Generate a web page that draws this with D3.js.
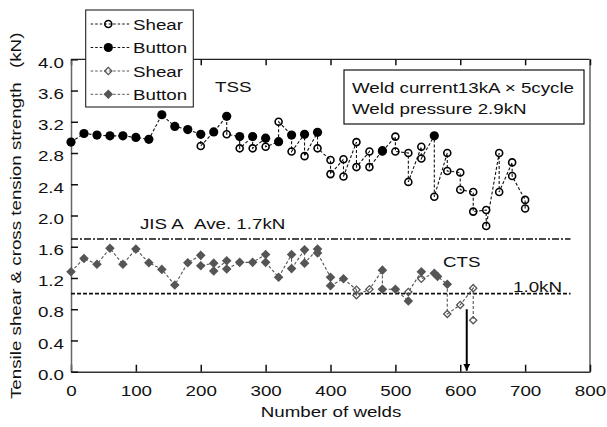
<!DOCTYPE html>
<html>
<head>
<meta charset="utf-8">
<script src="https://cdn.jsdelivr.net/npm/d3@7"></script>
<style>
  body { margin: 0; background: #fff; }
  text { font-family: "Liberation Sans", Arial, sans-serif; fill: #111; }
</style>
</head>
<body>
<svg id="chart" width="607" height="427"></svg>
<script>
// ---- data ----
var xTicks = [0, 100, 200, 300, 400, 500, 600, 700, 800];
var yTicks = [0, 0.4, 0.8, 1.2, 1.6, 2.0, 2.4, 2.8, 3.2, 3.6, 4.0];

// tensile shear strength, [welds, kN]
var tssButton = [[0, 2.94], [20, 3.05], [40, 3.03], [60, 3.02], [80, 3.02], [100, 3.00],
  [120, 2.975], [140, 3.29], [160, 3.14], [180, 3.10], [200, 3.04], [220, 3.07],
  [240, 3.27], [260, 3.01], [280, 3.01], [300, 2.99], [320, 2.945], [340, 3.03],
  [360, 3.04], [380, 3.065], [480, 2.83], [560, 3.02]];
var tssShear = [[200, 2.89], [240, 3.04], [260, 2.86], [280, 2.86], [300, 2.88],
  [320, 3.20], [340, 2.82], [360, 2.76], [380, 2.86], [400, 2.71], [400, 2.53],
  [420, 2.72], [420, 2.50], [440, 2.94], [440, 2.62], [460, 2.82], [460, 2.62],
  [480, 2.82], [500, 3.01], [500, 2.82], [520, 2.80], [520, 2.43], [540, 2.88],
  [540, 2.73], [560, 2.24], [580, 2.80], [580, 2.57], [600, 2.55], [600, 2.33],
  [620, 2.30], [620, 2.05], [640, 2.07], [640, 1.865], [660, 2.80], [660, 2.30],
  [680, 2.68], [680, 2.505], [700, 2.20], [700, 2.09]];

// cross tension strength, [welds, kN]
var ctsButton = [[0, 1.28], [20, 1.45], [40, 1.375], [60, 1.58], [80, 1.375], [100, 1.57],
  [120, 1.395], [140, 1.31], [160, 1.11], [180, 1.395], [200, 1.49], [200, 1.357],
  [220, 1.39], [220, 1.29], [240, 1.42], [240, 1.315], [260, 1.40], [280, 1.40],
  [300, 1.50], [300, 1.40], [320, 1.21], [340, 1.50], [340, 1.32], [360, 1.56],
  [360, 1.39], [380, 1.57], [380, 1.52], [400, 1.21], [400, 1.10], [420, 1.19],
  [480, 1.30], [480, 1.055], [500, 1.055], [520, 0.905], [540, 1.28], [560, 1.26],
  [565, 1.22], [580, 1.12]];
var ctsShear = [[440, 1.05], [440, 0.98], [460, 1.055], [520, 1.02], [540, 1.19],
  [580, 0.74], [600, 0.855], [620, 1.07], [620, 0.66]];

var jisAve = 1.7;       // JIS A average
var ctsLimit = 1.0;     // 1.0kN line
var limitWeld = 610;    // arrow
var arrowFrom = 0.8;

// ---- layout ----
var svg = d3.select("#chart");
var SX = 1.21;          // horizontal glyph stretch of the original font
var FS = 15.5;

var x = d3.scaleLinear().domain([0, 800]).range([71, 590]);
var y = d3.scaleLinear().domain([0, 4]).range([371.7, 59.3]);

function label(str, px, py, anchor, rotate) {
  return svg.append("text")
    .attr("transform", "translate(" + px + "," + py + ")" + (rotate ? " rotate(-90)" : "") + " scale(" + SX + ",1)")
    .attr("text-anchor", anchor || "start")
    .attr("font-size", FS)
    .text(str);
}

// frame
svg.append("line").attr("x1", x(0)).attr("x2", x(800)).attr("y1", y(4)).attr("y2", y(4))
  .attr("stroke", "#222").attr("stroke-width", 1.2);
svg.append("line").attr("x1", x(800)).attr("x2", x(800)).attr("y1", y(4)).attr("y2", y(0))
  .attr("stroke", "#888").attr("stroke-width", 2);

// top ticks (inside)
svg.append("g").attr("transform", "translate(0," + y(4) + ")")
  .call(d3.axisTop(x).tickValues(xTicks).tickSizeInner(-6).tickSizeOuter(0).tickFormat(""))
  .call(function (g) { g.select(".domain").remove(); })
  .selectAll("line").attr("stroke", "#111").attr("stroke-width", 1.5);

// bottom axis
var xAxis = svg.append("g").attr("transform", "translate(0," + y(0) + ")")
  .call(d3.axisBottom(x).tickValues(xTicks).tickSizeInner(-7).tickSizeOuter(0).tickPadding(13.5));
xAxis.select(".domain").attr("stroke", "#333").attr("stroke-width", 1.5);
xAxis.selectAll("line").attr("stroke", "#111").attr("stroke-width", 1.5);
xAxis.selectAll("text").attr("font-size", FS).attr("font-family", null).attr("fill", "#111")
  .attr("transform", "scale(" + SX + ",1)");

// left axis
var yAxis = svg.append("g").attr("transform", "translate(" + x(0) + ",0)")
  .call(d3.axisLeft(y).tickValues(yTicks).tickSizeInner(-7).tickSizeOuter(0).tickPadding(5.8)
    .tickFormat(d3.format(".1f")));
yAxis.select(".domain").attr("stroke", "#666").attr("stroke-width", 1.5);
yAxis.selectAll("line").attr("stroke", "#111").attr("stroke-width", 1.5);
yAxis.selectAll("text").attr("font-size", FS).attr("font-family", null).attr("fill", "#111")
  .attr("dy", "0.5em").attr("transform", "scale(" + SX + ",1)")
  .attr("x", -5.8);

// reference lines
svg.append("line").attr("x1", x(0)).attr("x2", x(770)).attr("y1", y(jisAve)).attr("y2", y(jisAve))
  .attr("stroke", "#111").attr("stroke-width", 1.6).attr("stroke-dasharray", "7,2,2,2");
svg.append("line").attr("x1", x(0)).attr("x2", x(770)).attr("y1", y(ctsLimit)).attr("y2", y(ctsLimit))
  .attr("stroke", "#111").attr("stroke-width", 1.6).attr("stroke-dasharray", "4,2");

// connecting lines
function byWeld(a, b) { return a[0] - b[0]; }
var line = d3.line().x(function (d) { return x(d[0]); }).y(function (d) { return y(d[1]); });
var tssAll = tssButton.concat(tssShear).sort(byWeld);
var ctsAll = ctsButton.concat(ctsShear).sort(byWeld);

svg.append("path").datum(tssAll).attr("d", line).attr("fill", "none")
  .attr("stroke", "#111").attr("stroke-width", 1.1).attr("stroke-dasharray", "3,2");
svg.append("path").datum(ctsAll).attr("d", line).attr("fill", "none")
  .attr("stroke", "#555").attr("stroke-width", 1.1).attr("stroke-dasharray", "3,2");

// markers
var diamondBig = d3.symbol().type(d3.symbolSquare).size(46);
var diamondSmall = d3.symbol().type(d3.symbolSquare).size(26);

function drawFilledCircles(g, data) {
  g.selectAll(null).data(data).join("circle")
    .attr("cx", function (d) { return x(d[0]); }).attr("cy", function (d) { return y(d[1]); })
    .attr("r", 4.6).attr("fill", "#000");
}
function drawOpenCircles(g, data) {
  g.selectAll(null).data(data).join("circle")
    .attr("cx", function (d) { return x(d[0]); }).attr("cy", function (d) { return y(d[1]); })
    .attr("r", 3.5).attr("fill", "none").attr("stroke", "#000").attr("stroke-width", 1.6);
}
function drawFilledDiamonds(g, data) {
  g.selectAll(null).data(data).join("path")
    .attr("d", diamondBig)
    .attr("transform", function (d) { return "translate(" + x(d[0]) + "," + y(d[1]) + ") rotate(45)"; })
    .attr("fill", "#555");
}
function drawOpenDiamonds(g, data) {
  g.selectAll(null).data(data).join("path")
    .attr("d", diamondSmall)
    .attr("transform", function (d) { return "translate(" + x(d[0]) + "," + y(d[1]) + ") rotate(45)"; })
    .attr("fill", "none").attr("stroke", "#555").attr("stroke-width", 1.3);
}

var marks = svg.append("g");
drawFilledDiamonds(marks.append("g"), ctsButton);
drawOpenDiamonds(marks.append("g"), ctsShear);
drawFilledCircles(marks.append("g"), tssButton);
drawOpenCircles(marks.append("g"), tssShear);

// arrow at the limit
svg.append("defs").append("marker").attr("id", "arrow")
  .attr("viewBox", "0 0 10 10").attr("refX", 10).attr("refY", 5)
  .attr("markerWidth", 7).attr("markerHeight", 7).attr("markerUnits", "userSpaceOnUse")
  .attr("orient", "auto")
  .append("path").attr("d", "M0,0L10,5L0,10Z").attr("fill", "#000");
svg.append("line").attr("x1", x(limitWeld)).attr("x2", x(limitWeld))
  .attr("y1", y(arrowFrom)).attr("y2", y(0) - 1)
  .attr("stroke", "#000").attr("stroke-width", 2).attr("marker-end", "url(#arrow)");

// annotations
label("TSS", 215, 91.5);
label("CTS", 443, 266.5);
label("1.0kN", 513, 291.5);
label("JIS A", 140, 229);
label("Ave. 1.7kN", 194, 229);

svg.append("rect").attr("x", 344).attr("y", 70).attr("width", 240).attr("height", 54)
  .attr("fill", "#fff").attr("stroke", "#111").attr("stroke-width", 1.2);
label("Weld current13kA \u00d7 5cycle", 352, 92.5);
label("Weld pressure 2.9kN", 352, 113.5);

// legend
var legend = svg.append("g");
legend.append("rect").attr("x", 85.7).attr("y", 10).attr("width", 107.6).attr("height", 97)
  .attr("fill", "#fff").attr("stroke", "#222").attr("stroke-width", 1.1);
var legendNames = ["Shear", "Button", "Shear", "Button"];
var legendLineColors = ["#111", "#111", "#555", "#555"];
var legendY = [24, 47.5, 71, 94.3];
legendNames.forEach(function (name, i) {
  legend.append("line").attr("x1", 90.7).attr("x2", 130).attr("y1", legendY[i]).attr("y2", legendY[i])
    .attr("stroke", legendLineColors[i]).attr("stroke-width", 1).attr("stroke-dasharray", "2.5,2");
  var g = legend.append("g");
  var pt = [[x.invert(108.3), y.invert(legendY[i])]];
  if (i === 0) drawOpenCircles(g, pt);
  if (i === 1) drawFilledCircles(g, pt);
  if (i === 2) drawOpenDiamonds(g, pt);
  if (i === 3) drawFilledDiamonds(g, pt);
  label(name, 133, legendY[i] + 5.5);
});

// axis titles
label("Number of welds", 331, 417, "middle");
label("Tensile shear & cross tension strength", 21, 399, "start", true);
label("(kN)", 21, 68, "start", true);
</script>
</body>
</html>
